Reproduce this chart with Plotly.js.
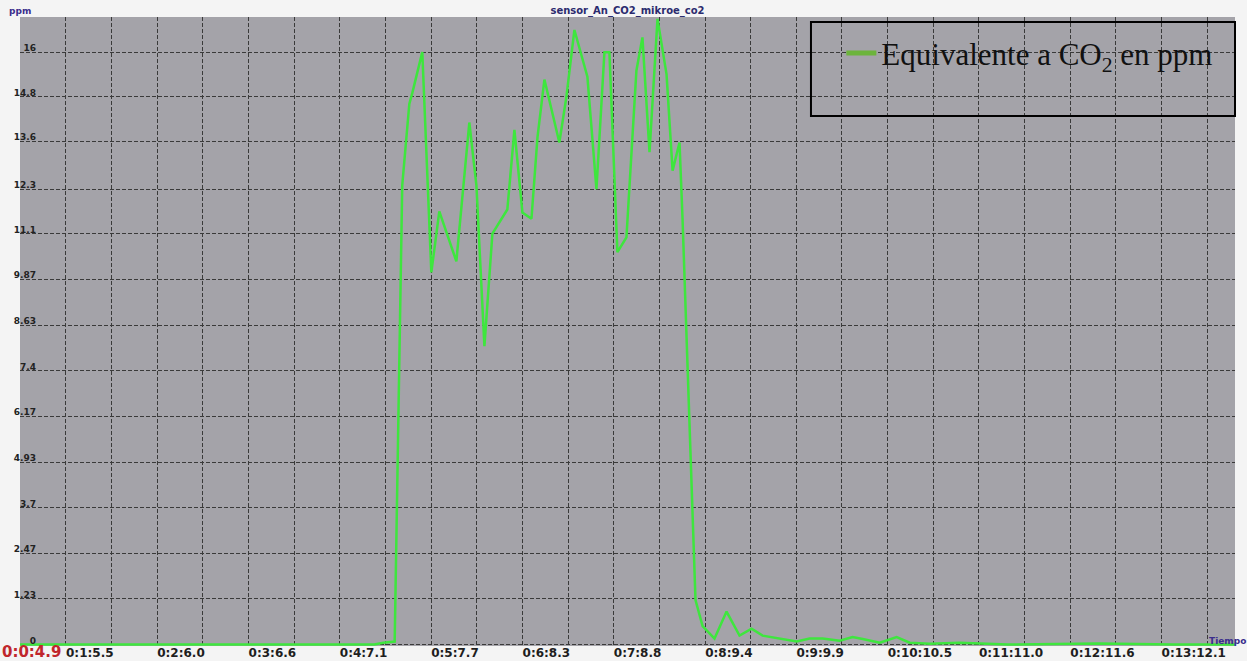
<!DOCTYPE html>
<html>
<head>
<meta charset="utf-8">
<script src="https://cdn.plot.ly/plotly-3.0.1.min.js"></script>
<style>html,body{margin:0;padding:0;background:#f4f4f4;}#chart{width:1247px;height:661px;}</style>
</head>
<body>
<div id="chart"></div>
<script>
// Elapsed time in seconds and the sensor reading in ppm
const timeSec = [35.0, 100, 200, 270, 276, 283.5, 288.5, 293.2, 295.2, 301.8, 307.8, 313.1, 324.4, 333.0, 337.7, 343.0, 348.3, 358.2, 362.9, 368.2, 374.2, 378.2, 382.8, 392.7, 397.4, 402.7, 411.3, 417.3, 422.6, 425.9, 431.2, 437.2, 443.8, 447.8, 452.5, 457.8, 463.8, 467.8, 472.4, 474.4, 483.0, 487.7, 495.6, 503.6, 512.2, 520.2, 527.5, 538.8, 550.1, 558.7, 567.3, 578.6, 587.2, 593.9, 605.2, 616.4, 625.1, 638.3, 658.0, 690.0, 750.0, 800.0, 840.8];
const co2Ppm  = [0, 0, 0, 0, 0.05, 0.08, 12.4, 14.6, 14.9, 16.0, 10.05, 11.7, 10.35, 14.1, 12.4, 8.06, 11.1, 11.75, 13.9, 11.67, 11.5, 13.7, 15.26, 13.56, 14.8, 16.6, 15.34, 12.3, 16.0, 16.0, 10.6, 11.0, 15.5, 16.4, 13.3, 16.9, 15.4, 12.8, 13.56, 11.5, 1.2, 0.5, 0.16, 0.89, 0.24, 0.43, 0.24, 0.16, 0.08, 0.16, 0.16, 0.1, 0.2, 0.15, 0.05, 0.2, 0.05, 0.02, 0.05, 0, 0.03, 0, 0];

// Axis tick labels
const xTickTimes  = [65.5, 126.0, 186.6, 247.1, 307.7, 368.3, 428.8, 489.4, 549.9, 610.5, 671.0, 731.6, 792.1];
const xTickLabels = ['0:1:5.5', '0:2:6.0', '0:3:6.6', '0:4:7.1', '0:5:7.7', '0:6:8.3', '0:7:8.8', '0:8:9.4', '0:9:9.9', '0:10:10.5', '0:11:11.0', '0:12:11.6', '0:13:12.1'];
const xStartLabel = '0:0:4.9';
const yTickVals   = [0, 1.23, 2.47, 3.7, 4.93, 6.17, 7.4, 8.63, 9.87, 11.1, 12.3, 13.6, 14.8, 16];
const yTickLabels = ['0', '1.23', '2.47', '3.7', '4.93', '6.17', '7.4', '8.63', '9.87', '11.1', '12.3', '13.6', '14.8', '16'];

const chartTitle = 'sensor_An_CO2_mikroe_co2';
const yUnit = 'ppm';
const xUnit = 'Tiempo';
const seriesName = 'Equivalente a CO<sub>2</sub> en ppm';

// grid every half label step, labels every second grid line
const half = (xTickTimes[1] - xTickTimes[0]) / 2;
const gridVals = [xTickTimes[0] - half];
const gridText = [''];
xTickTimes.forEach((t, i) => {
  gridVals.push(t); gridText.push(xTickLabels[i]);
  gridVals.push(t + half); gridText.push('');
});

const traces = [
  {
    x: timeSec, y: co2Ppm, type: 'scatter', mode: 'lines',
    line: {color: '#3ee63e', width: 2.5},
    showlegend: false, hoverinfo: 'x+y'
  },
  {
    x: [null], y: [null], type: 'scatter', mode: 'lines',
    name: seriesName,
    line: {color: '#6cb43c', width: 5},
    showlegend: true
  }
];

const gridStyle = {gridcolor: '#3a3a3a', griddash: '4px,2px', gridwidth: 1};

const layout = {
  width: 1247, height: 661,
  margin: {l: 20, r: 12, t: 17, b: 15},
  paper_bgcolor: '#f4f4f4',
  plot_bgcolor: '#a4a3a9',
  showlegend: true,
  title: {
    text: chartTitle,
    x: 0.5, xref: 'paper', xanchor: 'center',
    y: 1 - 10 / 661, yref: 'container', yanchor: 'middle',
    font: {family: 'DejaVu Sans', size: 10, color: '#2b2b6e', weight: 'bold'}
  },
  xaxis: Object.assign({
    range: [35.0, 840.8],
    tickmode: 'array', tickvals: gridVals, ticktext: gridText,
    ticks: '', showline: false, zeroline: false,
    ticklabelposition: 'outside right',
    ticklabelstandoff: -2,
    tickfont: {family: 'DejaVu Sans', size: 12, color: '#1e1e1e', weight: 'bold'}
  }, gridStyle),
  yaxis: Object.assign({
    range: [-0.04, 16.95],
    tickmode: 'array', tickvals: yTickVals, ticktext: yTickLabels,
    ticks: '', showline: false, zeroline: false,
    ticklabelposition: 'outside',
    ticklabelstandoff: -17,
    ticklabelshift: -4,
    tickfont: {family: 'DejaVu Sans', size: 9, color: '#222', weight: 'bold'}
  }, gridStyle),
  legend: {
    x: 0.676, xanchor: 'left', xref: 'paper',
    y: 0.985, yanchor: 'top', yref: 'paper',
    bgcolor: 'rgba(0,0,0,0)', borderwidth: 0,
    font: {family: 'Liberation Serif', size: 31, color: '#111'}
  },
  shapes: [
    {type: 'rect', xref: 'paper', yref: 'paper', x0: 0.651, x1: 1.0, y0: 0.8426, y1: 0.992,
     line: {color: '#000', width: 2}, fillcolor: 'rgba(0,0,0,0)'}
  ],
  annotations: [
    {text: xStartLabel, xref: 'paper', yref: 'paper', x: 0, y: 0, xanchor: 'left', yanchor: 'middle',
     xshift: -20, yshift: -6, showarrow: false,
     font: {family: 'DejaVu Sans', size: 15, color: '#c0262c', weight: 'bold'}},
    {text: yUnit, xref: 'paper', yref: 'paper', x: 0, y: 1, xanchor: 'left', yanchor: 'bottom',
     xshift: -13, yshift: -1, showarrow: false,
     font: {family: 'DejaVu Sans', size: 9, color: '#3a2d8c', weight: 'bold'}},
    {text: xUnit, xref: 'paper', yref: 'paper', x: 1, y: 0, xanchor: 'left', yanchor: 'bottom',
     xshift: -28, yshift: -2, showarrow: false,
     font: {family: 'DejaVu Sans', size: 9, color: '#3a2d8c', weight: 'bold'}}
  ]
};

Plotly.newPlot('chart', traces, layout, {displayModeBar: false, staticPlot: true});
</script>
</body>
</html>
